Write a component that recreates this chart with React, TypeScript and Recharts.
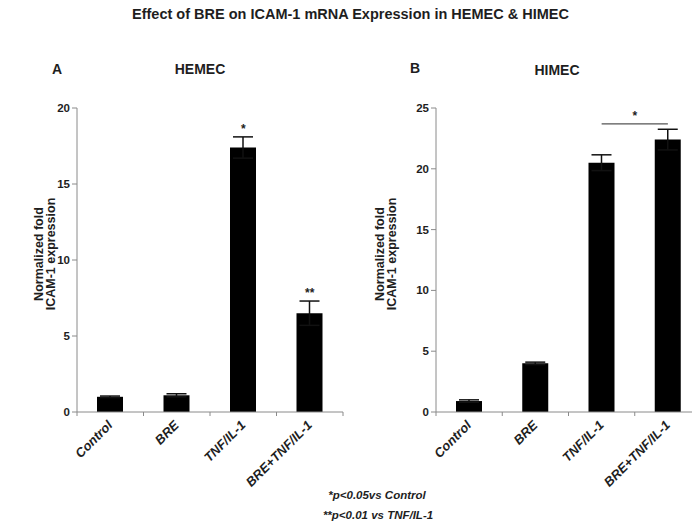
import React from 'react';
import {
  BarChart,
  Bar,
  XAxis,
  YAxis,
  ErrorBar,
  ReferenceDot,
  ReferenceLine
} from 'recharts';

const categories = ['Control', 'BRE', 'TNF/IL-1', 'BRE+TNF/IL-1'];

const hemecValues = [1.0, 1.1, 17.4, 6.5];
const hemecErrors = [0.05, 0.1, 0.7, 0.8];
const hemecMarks = ['', '', '*', '**'];
const hemecTicks = [0, 5, 10, 15, 20];

const himecValues = [0.9, 4.0, 20.5, 22.4];
const himecErrors = [0.1, 0.1, 0.65, 0.85];
const himecTicks = [0, 5, 10, 15, 20, 25];
// bracket over TNF/IL-1 and BRE+TNF/IL-1
const himecBracket = { from: 'TNF/IL-1', to: 'BRE+TNF/IL-1', level: 23.7, mark: '*' };

const FONT = 'Arial, "Liberation Sans", Helvetica, sans-serif';
const TEXT = '#1e1e1e';
const AXIS = '#8a8a8a';

const buildRows = (values: number[], errors: number[]) =>
  categories.map((name, i) => ({ name, value: values[i], err: errors[i] }));

// label under each bar + small tick marks on the category boundaries
const CategoryTick = (props: any) => {
  const { x, y, payload, index, width, visibleTicksCount } = props;
  const half = width / visibleTicksCount / 2;
  const ax = x + 3;
  const ay = y + 14;
  const last = index === visibleTicksCount - 1;
  return (
    <g>
      <line x1={x - half} x2={x - half} y1={y} y2={y + 4} stroke={AXIS} />
      {last && <line x1={x + half} x2={x + half} y1={y} y2={y + 4} stroke={AXIS} />}
      <text
        x={ax}
        y={ay}
        transform={`rotate(-45, ${ax}, ${ay})`}
        textAnchor="end"
        fontFamily={FONT}
        fontSize={13}
        fontWeight="bold"
        fontStyle="italic"
        fill={TEXT}
      >
        {payload.value}
      </text>
    </g>
  );
};

interface PanelProps {
  values: number[];
  errors: number[];
  ticks: number[];
  left: number;
  width: number;
  yAxisWidth: number;
  rightMargin: number;
  children?: React.ReactNode;
}

const Panel: React.FC<PanelProps> = ({ values, errors, ticks, left, width, yAxisWidth, rightMargin, children }) => {
  const data = buildRows(values, errors);
  return (
    <div style={{ position: 'absolute', left, top: 0 }}>
      <BarChart
        width={width}
        height={529}
        data={data}
        margin={{ top: 108, right: rightMargin, bottom: 116, left: 0 }}
        barSize={26}
      >
        <XAxis
          dataKey="name"
          height={1}
          stroke={AXIS}
          tickLine={false}
          tickSize={0}
          tickMargin={0}
          interval={0}
          tick={<CategoryTick />}
        />
        <YAxis
          width={yAxisWidth}
          domain={[0, ticks[ticks.length - 1]]}
          ticks={ticks}
          interval={0}
          tickSize={5}
          stroke={AXIS}
          tick={{ fontFamily: FONT, fontSize: 11.5, fontWeight: 'bold', fill: TEXT }}
        />
        <Bar dataKey="value" fill="#000" isAnimationActive={false}>
          <ErrorBar dataKey="err" width={10} stroke="#111" strokeWidth={1.5} direction="y" isAnimationActive={false} />
        </Bar>
        {children}
      </BarChart>
    </div>
  );
};

const starLabel = (value: string) => ({
  value,
  position: 'top' as const,
  offset: 4,
  fontFamily: FONT,
  fontSize: 12,
  fontWeight: 'bold',
  fill: TEXT
});

const heading = (cx: number, top: number, size: number): React.CSSProperties => ({
  position: 'absolute',
  left: cx - 200,
  width: 400,
  top,
  textAlign: 'center',
  fontFamily: FONT,
  fontWeight: 'bold',
  fontSize: size,
  color: TEXT,
  lineHeight: 1,
  whiteSpace: 'nowrap'
});

const YLabel: React.FC<{ cx: number; cy: number }> = ({ cx, cy }) => (
  <div
    style={{
      position: 'absolute',
      left: cx - 80,
      top: cy - 13,
      width: 160,
      height: 26,
      transform: 'rotate(-90deg)',
      textAlign: 'center',
      fontFamily: FONT,
      fontWeight: 'bold',
      fontSize: 12.5,
      lineHeight: '12px',
      color: TEXT
    }}
  >
    Normalized fold
    <br />
    ICAM-1 expression
  </div>
);

const App: React.FC = () => {
  return (
    <div
      style={{
        position: 'absolute',
        left: 0,
        top: 0,
        width: 692,
        height: 529,
        overflow: 'hidden',
        background: '#fff'
      }}
    >
      <div style={heading(332, 7, 14.5)}>
        Effect of BRE on ICAM-1 mRNA Expression in HEMEC &amp; HIMEC
      </div>
      <div style={heading(57, 62, 14)}>A</div>
      <div style={heading(200, 62, 14)}>HEMEC</div>
      <div style={heading(415, 61, 14)}>B</div>
      <div style={heading(557, 63, 14)}>HIMEC</div>

      <Panel values={hemecValues} errors={hemecErrors} ticks={hemecTicks} left={0} width={360} yAxisWidth={77} rightMargin={17}>
        {categories.map((c, i) =>
          hemecMarks[i] ? (
            <ReferenceDot
              key={c}
              x={c}
              y={hemecValues[i] + hemecErrors[i]}
              r={0}
              fill="none"
              stroke="none"
              label={starLabel(hemecMarks[i])}
            />
          ) : null
        )}
      </Panel>

      <Panel values={himecValues} errors={himecErrors} ticks={himecTicks} left={350} width={360} yAxisWidth={86} rightMargin={9}>
        <ReferenceLine
          segment={[
            { x: himecBracket.from, y: himecBracket.level },
            { x: himecBracket.to, y: himecBracket.level }
          ]}
          stroke="#555"
          strokeWidth={1.2}
          label={starLabel(himecBracket.mark)}
        />
      </Panel>

      <YLabel cx={46} cy={254} />
      <YLabel cx={387} cy={254} />

      <div style={{ ...heading(377, 490, 11.5), fontStyle: 'italic' }}>*p&lt;0.05vs Control</div>
      <div style={{ ...heading(378, 510, 11.5), fontStyle: 'italic' }}>**p&lt;0.01 vs TNF/IL-1</div>
    </div>
  );
};

export default App;
